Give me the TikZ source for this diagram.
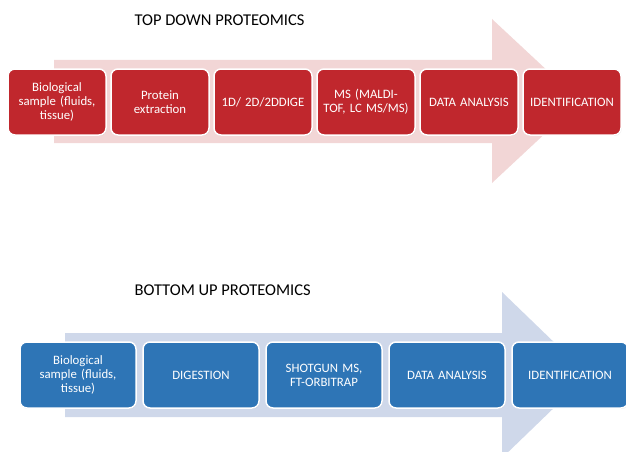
\documentclass[tikz,border=0pt]{standalone}
\usepackage{fontspec}
\setmainfont{Carlito}
\usetikzlibrary{positioning,shadows}
\definecolor{tdred}{RGB}{192,39,45}
\definecolor{tdpink}{RGB}{242,214,214}
\definecolor{bublue}{RGB}{46,117,182}
\definecolor{bulight}{RGB}{207,216,234}

\begin{document}
\begin{tikzpicture}[
  x=1pt, y=-1pt,
  node distance=5pt,
  every node/.style={align=center, font=\fontsize{12.8}{14}\selectfont},
  stage/.style={draw=white, line width=1.5pt, rounded corners=7pt, text=white, minimum height=66pt, inner sep=2pt, outer sep=0pt,
    drop shadow={shadow xshift=0.6pt, shadow yshift=-0.8pt, opacity=0.25}},
  topstage/.style={stage, fill=tdred, minimum width=98pt, text width=94pt},
  botstage/.style={stage, fill=bublue, minimum width=116pt, text width=112pt},
  heading/.style={anchor=west, font=\fontsize{16.5}{18}\selectfont}
]
\useasboundingbox (0,0) rectangle (626,452);
\clip (0,0) rectangle (626,452);

% big arrows behind the stages
\fill[tdpink] (54,60) -- (492,60) -- (492,19) -- (580,101) -- (492,183) -- (492,143) -- (54,143) -- cycle;
\fill[bulight] (65,333) -- (502,333) -- (502,292) -- (588,375) -- (502,458) -- (502,417) -- (65,417) -- cycle;

% top down
\node[heading] (toptitle) at (131,20) {TOP DOWN PROTEOMICS};
\node[topstage] (bio1) at (57,102) {Biological\\sample (fluids,\\tissue)};
\node[topstage, right=of bio1] (extract) {Protein\\extraction};
\node[topstage, right=of extract] (gel) {1D/ 2D/2DDIGE};
\node[topstage, right=of gel] (ms) {MS (MALDI-\\TOF, LC MS/MS)};
\node[topstage, right=of ms] (data1) {DATA ANALYSIS};
\node[topstage, right=of data1] (ident1) {IDENTIFICATION};

% bottom up
\node[heading] (bottitle) at (131,290) {BOTTOM UP PROTEOMICS};
\node[botstage] (bio2) at (78,375) {Biological\\sample (fluids,\\tissue)};
\node[botstage, right=7pt of bio2] (digest) {DIGESTION};
\node[botstage, right=7pt of digest] (shotgun) {SHOTGUN MS,\\FT-ORBITRAP};
\node[botstage, right=7pt of shotgun] (data2) {DATA ANALYSIS};
\node[botstage, right=7pt of data2] (ident2) {IDENTIFICATION};
\end{tikzpicture}
\end{document}
